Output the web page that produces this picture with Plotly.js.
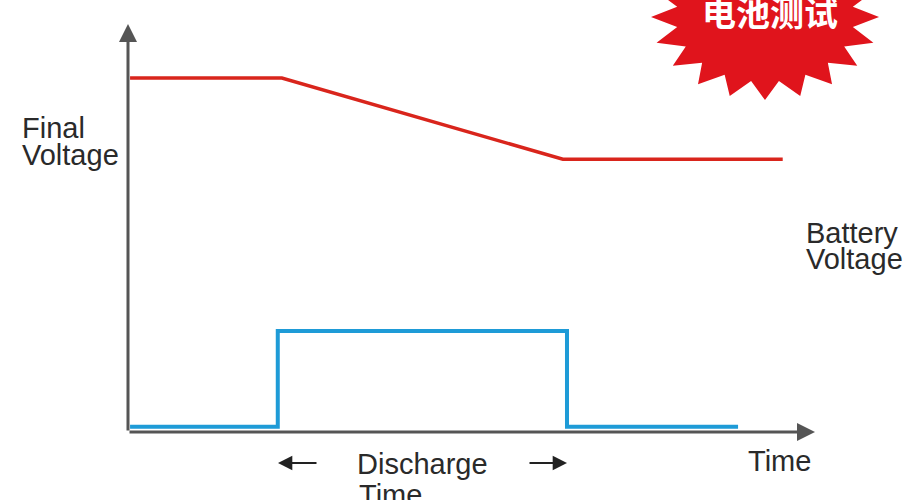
<!DOCTYPE html>
<html><head><meta charset="utf-8">
<script src="https://cdn.plot.ly/plotly-3.0.1.min.js"></script>
<style>html,body{margin:0;padding:0;background:#fff}</style>
</head><body>
<div id="chart" style="width:910px;height:500px"></div>
<script>
// Data (time axis 0-100, value axis 0-100)
const voltTime = [0.3, 22.4, 63.3, 95.3];
const voltValue = [87.6, 87.6, 67.5, 67.5];
const loadTime = [0.3, 21.8, 21.8, 63.9, 63.9, 88.8];
const loadValue = [1.3, 1.3, 25.0, 25.0, 1.3, 1.3];
const labelsLeft = ["Final", "Voltage"];
const labelsRight = ["Battery", "Voltage"];
const labelsBottom = ["Discharge", "Time"];
const axisLabel = "Time";
const badgeText = "电池测试";

const L = 128, R = 815, T = 28, B = 432;
const W = R - L, H = B - T;
const px = x => (x - L) / W;
const py = y => (B - y) / H;

const font = {family: "Liberation Sans, Arial, sans-serif", size: 29, color: "#2a2a2a"};
function label(text, x, y) {
  return {text: text, xref: "paper", yref: "paper", x: px(x), y: py(y),
    xanchor: "left", yanchor: "middle", showarrow: false, font: font};
}

// starburst path
function star(cx, cy, rx, ry, n, ratio) {
  let p = "";
  for (let i = 0; i < 2 * n; i++) {
    const a = Math.PI * i / n;
    const r = (i % 2 === 0) ? 1 : ratio;
    const x = cx + rx * r * Math.cos(a);
    const y = cy + ry * r * Math.sin(a);
    p += (i === 0 ? "M" : "L") + px(x).toFixed(4) + "," + py(y).toFixed(4);
  }
  return p + "Z";
}

const traces = [
  {x: voltTime, y: voltValue, mode: "lines", line: {color: "#d9251c", width: 3.5}, hoverinfo: "skip"},
  {x: loadTime, y: loadValue, mode: "lines", line: {color: "#1e9bd7", width: 4}, hoverinfo: "skip"}
];

const annotations = [
  // axes arrows
  {x: 0, y: 101, ax: 0, ay: 0, xref: "x", yref: "y", axref: "x", ayref: "y", showarrow: true,
   arrowhead: 2, arrowsize: 1.2, arrowwidth: 3, arrowcolor: "#555", text: ""},
  {x: 100, y: 0, ax: 0, ay: 0, xref: "x", yref: "y", axref: "x", ayref: "y", showarrow: true,
   arrowhead: 2, arrowsize: 1.2, arrowwidth: 3, arrowcolor: "#555", text: ""},
  // discharge arrows
  {x: px(278), y: py(463), ax: px(318), ay: py(463), xref: "paper", yref: "paper", axref: "paper", ayref: "paper",
   showarrow: true, arrowhead: 2, arrowsize: 1.3, arrowwidth: 2.2, arrowcolor: "#222", text: ""},
  {x: px(567), y: py(463), ax: px(528), ay: py(463), xref: "paper", yref: "paper", axref: "paper", ayref: "paper",
   showarrow: true, arrowhead: 2, arrowsize: 1.3, arrowwidth: 2.2, arrowcolor: "#222", text: ""},
  label(labelsLeft[0], 20, 128),
  label(labelsLeft[1], 20, 155),
  label(labelsRight[0], 804, 233),
  label(labelsRight[1], 804, 259),
  label(labelsBottom[0], 355, 464),
  label(labelsBottom[1], 357, 495),
  label(axisLabel, 746, 461),
  {text: "<b>" + badgeText + "</b>", xref: "paper", yref: "paper", x: px(770), y: py(12),
   xanchor: "center", yanchor: "middle", showarrow: false,
   font: {family: "Noto Sans CJK SC", size: 34, color: "#fff"}}
];

const layout = {
  width: 910, height: 500,
  margin: {l: L, r: 910 - R, t: T, b: 500 - B},
  paper_bgcolor: "#fff", plot_bgcolor: "#fff",
  showlegend: false,
  xaxis: {range: [0, 100], visible: false, fixedrange: true},
  yaxis: {range: [0, 100], visible: false, fixedrange: true},
  shapes: [{type: "path", xref: "paper", yref: "paper", path: star(765, 17, 114, 83, 20, 0.78),
    fillcolor: "#e0141c", line: {width: 0}, layer: "below"}],
  annotations: annotations
};

Plotly.newPlot("chart", traces, layout, {staticPlot: true, displayModeBar: false});
</script>
</body></html>
